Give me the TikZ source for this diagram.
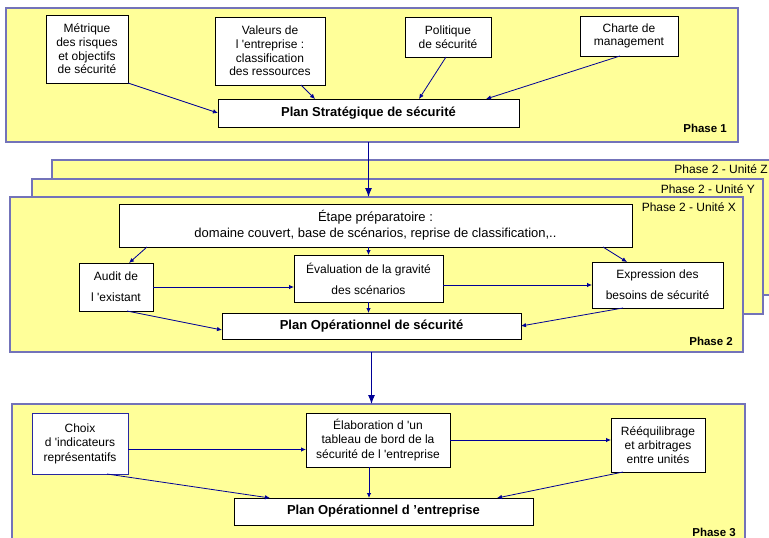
\documentclass[tikz,border=0pt]{standalone}
\usepackage{fontspec}
\setmainfont{Liberation Sans}
\usetikzlibrary{arrows.meta}
\definecolor{phasefill}{RGB}{255,255,153}
\definecolor{phaseline}{RGB}{115,115,185}
\definecolor{arrowblue}{RGB}{0,0,150}
\definecolor{choixline}{RGB}{40,40,160}

\begin{document}
\begin{tikzpicture}[x=1pt, y=-1pt,
    phase/.style={draw=phaseline, line width=1.4pt, fill=phasefill, inner sep=0pt, outer sep=0pt},
    task/.style={draw=black, line width=0.8pt, fill=white, align=center, inner sep=0pt, outer sep=0pt,
      font=\fontsize{12}{13.7}\selectfont},
    airy/.style={task, font=\fontsize{12}{21}\selectfont},
    plan/.style={task, font=\fontsize{13}{15}\selectfont\bfseries},
    phasetag/.style={inner sep=0pt, font=\fontsize{11.5}{13}\selectfont\bfseries},
    unittag/.style={inner sep=0pt, anchor=east, font=\fontsize{12}{14}\selectfont},
    flow/.style={-{Latex[length=5pt,width=4.5pt]}, arrowblue, line width=0.8pt},
    bigflow/.style={-{Latex[length=9pt,width=7pt]}, arrowblue, line width=1pt}]
  \clip (0,0) rectangle (769,538);
  \fill[white] (0,0) rectangle (769,538);

  % Phase 1
  \node[phase, minimum width=732, minimum height=134] (p1) at (372,75) {};
  \node[phasetag, anchor=east] at ([shift={(-11,-14)}]p1.south east) {Phase 1};

  \node[task, minimum width=82, minimum height=68] (metrique) at (87,49)
    {Métrique\\des risques\\et objectifs\\de sécurité};
  \node[task, minimum width=110, minimum height=68] (valeurs) at (270,51)
    {Valeurs de\\l \textquotesingle entreprise :\\classification\\des ressources};
  \node[task, minimum width=86, minimum height=40] (politique) at (448,37)
    {Politique\\de sécurité};
  \node[task, minimum width=98, minimum height=40] (charte) at (629,36)
    {Charte de\\management};
  \node[plan, minimum width=301, minimum height=28] (plan1) at (368.5,113)
    {Plan Stratégique de sécurité};

  \draw[flow] (metrique.south east) -- (plan1.west);
  \draw[flow] ([xshift=31]valeurs.south) -- ([xshift=-53.5]plan1.north);
  \draw[flow] ([xshift=-2]politique.south) -- ([xshift=50.5]plan1.north);
  \draw[flow] ([xshift=-9]charte.south) -- ([xshift=117.5]plan1.north);

  % Phase 2 (units Z, Y, X)
  \node[phase, minimum width=726, minimum height=135] (p2z) at (415,227.5) {};
  \node[unittag] at ([shift={(-10,9)}]p2z.north east) {Phase 2 - Unité Z};
  \node[phase, minimum width=731, minimum height=135] (p2y) at (397.5,246.5) {};
  \node[unittag] at ([shift={(-8,10)}]p2y.north east) {Phase 2 - Unité Y};
  \node[phase, minimum width=733, minimum height=155] (p2x) at (376.5,274.5) {};
  \node[unittag] at ([shift={(-7,10)}]p2x.north east) {Phase 2 - Unité X};
  \node[phasetag, anchor=east] at ([shift={(-10,-11)}]p2x.south east) {Phase 2};

  \draw[bigflow] (plan1 |- p1.south) -- (plan1 |- p2x.north);

  \node[task, minimum width=513, minimum height=43, font=\fontsize{13}{16}\selectfont] (etape) at (375.5,225.5)
    {Étape préparatoire :\\domaine couvert, base de scénarios, reprise de classification,..};
  \node[airy, minimum width=74, minimum height=48] (audit) at (116,287)
    {Audit de\\l \textquotesingle existant};
  \node[airy, minimum width=149, minimum height=47] (evaluation) at (368.5,278.5)
    {Évaluation de la gravité\\des scénarios};
  \node[airy, minimum width=131, minimum height=46] (expression) at (657.5,285)
    {Expression des\\besoins de sécurité};
  \node[plan, minimum width=299, minimum height=26] (planop) at (371.5,326)
    {Plan Opérationnel de sécurité};

  \draw[flow] ([xshift=-228.5]etape.south) -- ([xshift=13]audit.north);
  \draw[flow] (evaluation.north |- etape.south) -- (evaluation.north);
  \draw[flow] ([xshift=227.5]etape.south) -- ([xshift=-30.5]expression.north);
  \draw[flow] (audit.east) -- (audit.east -| evaluation.west);
  \draw[flow] (evaluation.east |- expression.west) -- (expression.west);
  \draw[flow] (evaluation.south) -- (evaluation.south |- planop.north);
  \draw[flow] ([xshift=11]audit.south) -- ([yshift=-4]planop.west);
  \draw[flow] ([xshift=-34.5]expression.south) -- (planop.east);

  % Phase 3
  \node[phase, minimum width=733, minimum height=156] (p3) at (378.5,482) {};
  \node[phasetag, anchor=east] at ([shift={(-9,128)}]p3.north east) {Phase 3};

  \draw[bigflow] (planop |- p2x.south) -- (planop |- p3.north);

  \node[task, draw=choixline, minimum width=96, minimum height=61, font=\fontsize{12}{14.5}\selectfont] (choix) at (80,443.5)
    {Choix\\d \textquotesingle indicateurs\\représentatifs};
  \node[task, minimum width=144, minimum height=54, font=\fontsize{12}{14.5}\selectfont] (elaboration) at (378,440)
    {Élaboration d \textquotesingle un\\tableau de bord de la\\sécurité de l \textquotesingle entreprise};
  \node[task, minimum width=94, minimum height=54, font=\fontsize{12}{14}\selectfont] (reequil) at (658,445)
    {Rééquilibrage\\et arbitrages\\entre unités};
  \node[plan, minimum width=299, minimum height=27] (planent) at (383.5,511.5)
    {Plan Opérationnel d ’entreprise};

  \draw[flow] ([yshift=-6]choix.east) -- ([yshift=-6]choix.east -| elaboration.west);
  \draw[flow] (elaboration.east) -- (elaboration.east -| reequil.west);
  \draw[flow] ([xshift=-9]elaboration.south) -- ([xshift=-9]elaboration.south |- planent.north);
  \draw[flow] ([xshift=27]choix.south) -- ([xshift=-113.5]planent.north);
  \draw[flow] ([xshift=-35]reequil.south) -- ([xshift=113.5]planent.north);
\end{tikzpicture}
\end{document}
